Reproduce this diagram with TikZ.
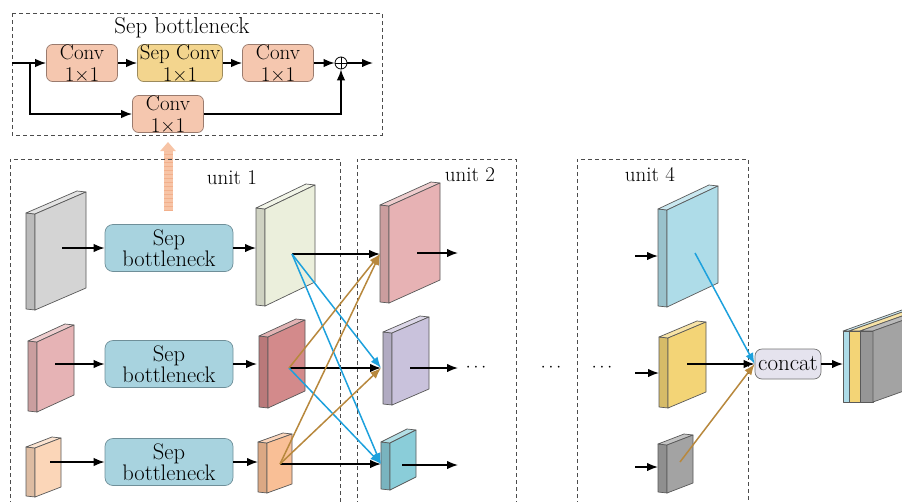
\documentclass[tikz,border=0pt]{standalone}
\usetikzlibrary{arrows.meta}
\definecolor{convfill}{HTML}{F5C7AF}
\definecolor{convdraw}{HTML}{9A7B6E}
\definecolor{sepfill}{HTML}{F3D58E}
\definecolor{sepdraw}{HTML}{9C8A5C}
\definecolor{sbfill}{HTML}{A8D3DF}
\definecolor{sbdraw}{HTML}{6F8F99}
\definecolor{cblue}{HTML}{1DA1DD}
\definecolor{cbrown}{HTML}{B8883D}
\definecolor{peach}{HTML}{F7C4A6}
\definecolor{peachd}{HTML}{F2B08C}
\definecolor{concatfill}{HTML}{E5E3EE}
\definecolor{sgray}{HTML}{D4D4D4}
\definecolor{spinkA}{HTML}{E6B3B5}
\definecolor{speachA}{HTML}{FBD6B8}
\definecolor{sgreen}{HTML}{EBEFDC}
\definecolor{sdpink}{HTML}{D38A8B}
\definecolor{sorange}{HTML}{F9BF96}
\definecolor{spinkB}{HTML}{E7B2B4}
\definecolor{slav}{HTML}{C9C2DC}
\definecolor{steal}{HTML}{8ACDD9}
\definecolor{slblue}{HTML}{AEDCE8}
\definecolor{syellow}{HTML}{F3D476}
\definecolor{sdgray}{HTML}{A3A3A3}
\tikzset{
  slabline/.style={draw=black!65, line width=0.7pt, line join=round},
  conv/.style={rectangle, rounded corners=6pt, draw=convdraw, fill=convfill, line width=0.7pt,
    minimum width=71pt, minimum height=37pt, inner sep=0pt, align=center,
    font=\fontsize{21}{21.5}\selectfont},
  sepconv/.style={conv, draw=sepdraw, fill=sepfill, minimum width=85pt},
  sbox/.style={rectangle, rounded corners=8pt, draw=sbdraw, fill=sbfill, line width=0.7pt,
    minimum width=128pt, minimum height=47pt, inner sep=0pt, align=center,
    font=\fontsize{22.5}{20.5}\selectfont},
  catbox/.style={rectangle, rounded corners=7pt, draw=black!55, fill=concatfill, line width=0.7pt,
    minimum width=66pt, minimum height=30pt, inner sep=0pt, font=\fontsize{23}{23}\selectfont},
  lbl/.style={inner sep=0pt, font=\fontsize{21}{21}\selectfont},
  unitbox/.style={draw=black!70, line width=0.8pt, dash pattern=on 4pt off 3pt},
  arr/.style={line width=1.5pt, -{Latex[length=11pt,width=8.5pt]}},
  barr/.style={arr, cblue},
  brarr/.style={arr, cbrown},
  dots/.style={inner sep=0pt, font=\fontsize{17}{17}\selectfont}
}
% #1 xl, #2 yt, #3 xr, #4 yb, #5 skew, #6 colour
\newcommand{\slab}[6]{%
  \filldraw[slabline, fill=#6!88!black] (#1-9,#2-1) -- (#1,#2) -- (#1,#4) -- (#1-9,#4-1) -- cycle;
  \filldraw[slabline, fill=#6!65!white] (#1-9,#2-1) -- (#1,#2) -- (#3,#2-#5) -- (#3-9,#2-#5-1) -- cycle;
  \filldraw[slabline, fill=#6] (#1,#2) -- (#3,#2-#5) -- (#3,#4-#5) -- (#1,#4) -- cycle;
}
\begin{document}
\begin{tikzpicture}[x=1pt, y=-1pt]
\path[use as bounding box] (0,0) rectangle (902,501);
\clip (0,0) rectangle (902,501);
\fill[white] (0,0) rectangle (902,501);

% ---------------- top: Sep bottleneck detail ----------------
\draw[unitbox] (12,13) rectangle (382,135);
\node[inner sep=0pt, font=\fontsize{23}{23}\selectfont] (ttl) at (182,28) {Sep bottleneck};
\node[conv] (c1) at (82,63) {Conv\\1×1};
\node[sepconv] (c2) at (180,63) {Sep Conv\\1×1};
\node[conv] (c3) at (278,63) {Conv\\1×1};
\node[conv] (c4) at (168,114) {Conv\\1×1};
\node[circle, draw, line width=0.8pt, minimum size=12pt, inner sep=0pt] (plus) at (341,63) {};
\draw[line width=0.8pt] (plus.north) -- (plus.south) (plus.west) -- (plus.east);
\coordinate (tin) at (12,63);
\coordinate (tsplit) at (30,63);
\coordinate (tout) at (373,63);
\draw[arr] (tin) -- (c1);
\draw[arr] (c1) -- (c2);
\draw[arr] (c2) -- (c3);
\draw[arr] (c3) -- (plus);
\draw[arr] (plus) -- (tout);
\draw[arr] (tsplit) |- (c4.west);
\draw[arr] (c4.east) -| (plus.south);

% peach dashed arrow
\coordinate (pa) at (168,211);
\coordinate (pb) at (168,142);
\draw[line width=9pt, peach, -{Triangle[length=9pt,width=15pt]}] (pa) -- (pb);
\draw[line width=9pt, peachd, dash pattern=on 1.2pt off 2.8pt, shorten >=9pt] (pa) -- (pb);

% ---------------- unit boxes ----------------
\draw[unitbox] (10,505) -- (10,159) -- (340,159) -- (340,505);
\draw[unitbox] (357,505) -- (357,159) -- (516,159) -- (516,505);
\draw[unitbox] (577,505) -- (577,159) -- (748,159) -- (748,505);
\node[lbl] (l1) at (232,178) {unit 1};
\node[lbl] (l2) at (470,175) {unit 2};
\node[lbl] (l4) at (650,175) {unit 4};

% ---------------- unit 1 ----------------
\slab{35}{214}{86}{310}{22}{sgray}
\slab{37}{342}{74}{412}{17}{spinkA}
\slab{35}{448}{61}{497}{10}{speachA}
\node[sbox] (sb1) at (169,248) {Sep\\bottleneck};
\node[sbox] (sb2) at (169,364) {Sep\\bottleneck};
\node[sbox] (sb3) at (169,462) {Sep\\bottleneck};
\coordinate (i1) at (62,248);
\coordinate (i2) at (55,364);
\coordinate (i3) at (50,462);
\draw[arr] (i1) -- (sb1);
\draw[arr] (i2) -- (sb2);
\draw[arr] (i3) -- (sb3);
\slab{265}{209}{315}{306}{24}{sgreen}
\slab{268}{337}{305}{408}{17}{sdpink}
\slab{267}{443}{292}{493}{9}{sorange}
\coordinate (o1) at (256,248);
\coordinate (o2) at (257,364);
\coordinate (o3) at (258,462);
\draw[arr] (sb1) -- (o1);
\draw[arr] (sb2) -- (o2);
\draw[arr] (sb3) -- (o3);

% ---------------- unit 2 ----------------
\slab{389}{206}{440}{303}{23}{spinkB}
\slab{392}{333}{429}{405}{16}{slav}
\slab{390}{443}{416}{490}{13}{steal}

\coordinate (s1) at (292,254);
\coordinate (s2) at (289,368);
\coordinate (s3) at (280,464);
\coordinate (t1) at (380,254);
\coordinate (t2) at (381,368);
\coordinate (t3) at (381,464);
\draw[arr] (s1) -- (t1);
\draw[arr] (s2) -- (t2);
\draw[arr] (s3) -- (t3);
\draw[barr] (s1) -- (t2);
\draw[barr] (s1) -- (t3);
\draw[barr] (s2) -- (t3);
\draw[brarr] (s2) -- (t1);
\draw[brarr] (s3) -- (t1);
\draw[brarr] (s3) -- (t2);

\coordinate (q1a) at (417,253);
\coordinate (q1b) at (458,253);
\coordinate (q2a) at (410,368);
\coordinate (q2b) at (458,368);
\coordinate (q3a) at (402,465);
\coordinate (q3b) at (458,465);
\draw[arr] (q1a) -- (q1b);
\draw[arr] (q2a) -- (q2b);
\draw[arr] (q3a) -- (q3b);

\node[dots] (d1) at (476,368) {$\cdots$};
\node[dots] (d2) at (551,368) {$\cdots$};
\node[dots] (d3) at (602,368) {$\cdots$};

% ---------------- unit 4 ----------------
\slab{667}{210}{718}{307}{24}{slblue}
\slab{668}{338}{706}{408}{16}{syellow}
\slab{667}{445}{693}{493}{10}{sdgray}
\coordinate (w1a) at (635,256);
\coordinate (w1b) at (658,256);
\coordinate (w2a) at (635,373);
\coordinate (w2b) at (659,373);
\coordinate (w3a) at (635,467);
\coordinate (w3b) at (658,467);
\draw[arr] (w1a) -- (w1b);
\draw[arr] (w2a) -- (w2b);
\draw[arr] (w3a) -- (w3b);

\node[catbox] (cat) at (788,364) {concat};
\coordinate (k1) at (695,253);
\coordinate (k2) at (687,364);
\coordinate (k3) at (680,462);
\draw[barr] (k1) -- (cat.west);
\draw[arr] (k2) -- (cat.west);
\draw[brarr] (k3) -- (cat.west);

% ---------------- output stack ----------------
\filldraw[slabline, fill=slblue!65!white] (843,331) -- (849,331) -- (936,300) -- (930,300) -- cycle;
\filldraw[slabline, fill=syellow!65!white] (849,331) -- (860,331) -- (947,300) -- (936,300) -- cycle;
\filldraw[slabline, fill=sdgray!75!white] (860,331) -- (873,331) -- (960,300) -- (947,300) -- cycle;
\filldraw[slabline, fill=slblue] (843,331) rectangle (849,402);
\filldraw[slabline, fill=syellow] (849,331) rectangle (860,402);
\filldraw[slabline, fill=sdgray!92!black] (860,331) rectangle (873,402);
\filldraw[slabline, fill=sdgray] (873,331) -- (960,300) -- (960,371) -- (873,402) -- cycle;
\coordinate (stk) at (843,364);
\draw[arr] (cat.east) -- (stk);
\end{tikzpicture}
\end{document}
